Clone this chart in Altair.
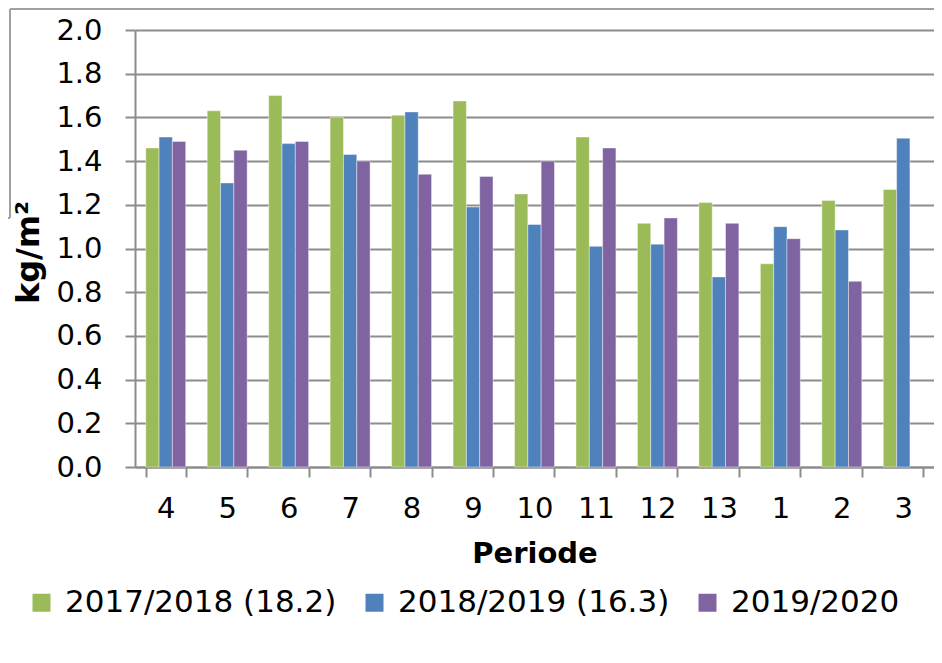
import altair as alt
import pandas as pd

periods = ["4", "5", "6", "7", "8", "9", "10", "11", "12", "13", "1", "2", "3"]
series_names = ["2017/2018 (18.2)", "2018/2019 (16.3)", "2019/2020"]
vals_1718 = [1.46, 1.63, 1.70, 1.60, 1.61, 1.675, 1.25, 1.51, 1.115, 1.21, 0.93, 1.22, 1.27]
vals_1819 = [1.51, 1.30, 1.48, 1.43, 1.625, 1.19, 1.11, 1.01, 1.02, 0.87, 1.10, 1.085, 1.505]
vals_1920 = [1.49, 1.45, 1.49, 1.40, 1.34, 1.33, 1.40, 1.46, 1.14, 1.115, 1.045, 0.85, None]
colors = ["#9BBB59", "#4F81BD", "#8064A2"]
y_ticks = [0.0, 0.2, 0.4, 0.6, 0.8, 1.0, 1.2, 1.4, 1.6, 1.8, 2.0]

rows = []
for s, vals in zip(series_names, [vals_1718, vals_1819, vals_1920]):
    for p, v in zip(periods, vals):
        if v is not None:
            rows.append({"Periode": p, "Serie": s, "Waarde": v})
df = pd.DataFrame(rows)

FONT = "DejaVu Sans"
GRAY = "#8c8c8c"
W, H = 799, 437

bars = alt.Chart(df).mark_bar(stroke="white", strokeWidth=0.6, strokeOpacity=0.7).encode(
    x=alt.X(
        "Periode:N",
        sort=periods,
        scale=alt.Scale(paddingInner=0.35, paddingOuter=0.175),
        axis=alt.Axis(
            title="Periode", labelAngle=0, tickBand="extent", tickSize=10,
            labelPadding=17, titlePadding=16, domainColor=GRAY, tickColor=GRAY,
            domainWidth=2, tickWidth=2, labelFontSize=29, titleFontSize=29,
            titleFontWeight="bold", labelColor="black", titleColor="black",
            labelFont=FONT, titleFont=FONT, grid=False,
        ),
    ),
    xOffset=alt.XOffset("Serie:N", sort=series_names,
                        scale=alt.Scale(domain=series_names, paddingInner=0, paddingOuter=0)),
    y=alt.Y(
        "Waarde:Q",
        scale=alt.Scale(domain=[0, 2], nice=False),
        axis=alt.Axis(
            values=y_ticks, format=".1f", title="kg/m²", tickSize=10, labelPadding=23,
            domainColor=GRAY, tickColor=GRAY, domainWidth=2, tickWidth=2,
            gridColor=GRAY, gridWidth=2, labelFontSize=29, titleFontSize=32,
            titleFontWeight="bold", labelColor="black", titleColor="black",
            labelFont=FONT, titleFont=FONT, titleAngle=270, titleAlign="center",
            titleBaseline="middle", titleX=-107, titleY=222,
        ),
    ),
    color=alt.Color(
        "Serie:N",
        sort=series_names,
        scale=alt.Scale(domain=series_names, range=colors),
        legend=alt.Legend(
            title=None, orient="none", direction="horizontal", legendX=-109, legendY=557,
            labelFontSize=31, labelFont=FONT, labelColor="black", labelLimit=0,
            symbolType="square", symbolSize=324, symbolStrokeWidth=0, labelOffset=8,
            columnPadding=22,
        ),
    ),
)

frame_df = pd.DataFrame({"k": [0]})
frame_top = alt.Chart(frame_df).mark_rule(color="#a0a0a0", strokeWidth=2).encode(
    x=alt.value(-125), x2=alt.value(W), y=alt.value(-21))
frame_side = alt.Chart(frame_df).mark_rule(color="#a0a0a0", strokeWidth=2).encode(
    x=alt.value(-125), y=alt.value(-21), y2=alt.value(188))
frame_bottom = alt.Chart(frame_df).mark_rule(color="#a0a0a0", strokeWidth=2).encode(
    x=alt.value(-130), x2=alt.value(-125), y=alt.value(188))

chart = alt.layer(bars, frame_top, frame_side, frame_bottom).properties(
    width=W, height=H,
    padding={"left": 127, "top": 22, "right": 0, "bottom": 181},
    autosize=alt.AutoSizeParams(type="none"),
    background="white",
).configure_view(strokeWidth=0)

chart.save("out.html", embed_options={"renderer": "svg", "actions": False})
